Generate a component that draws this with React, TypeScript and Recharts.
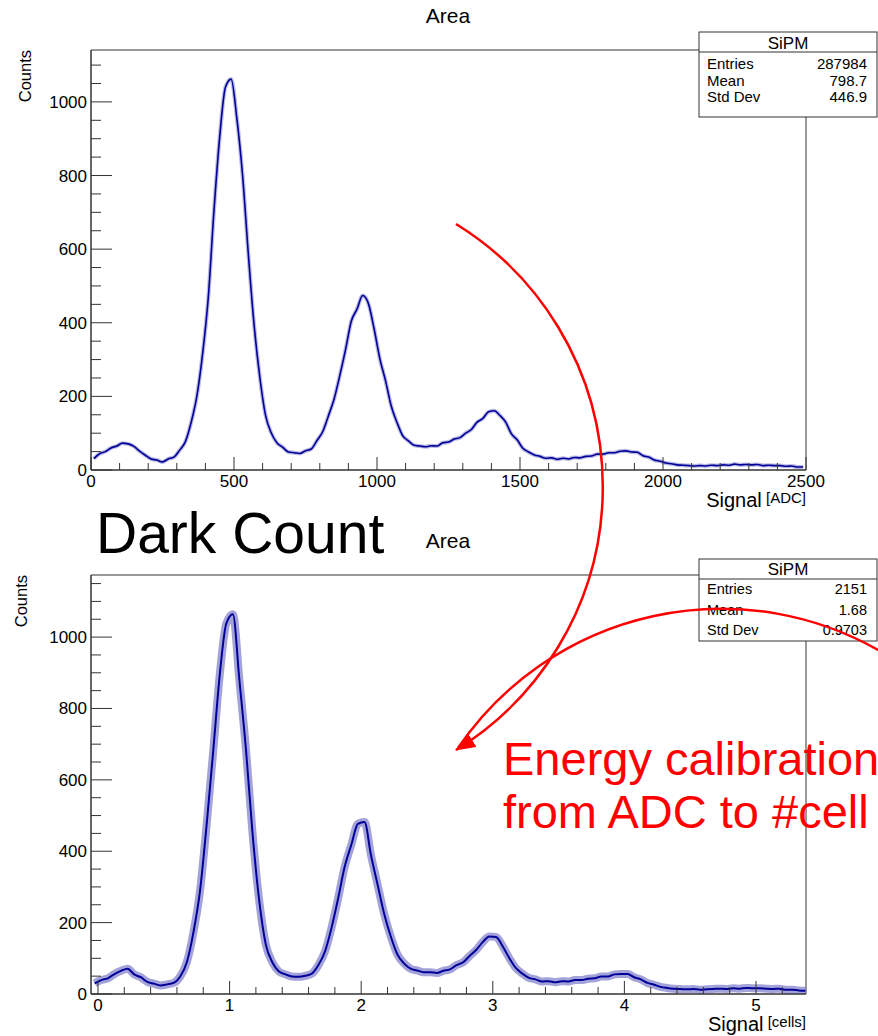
import React from "react";
import { LineChart, Line, XAxis, YAxis, ReferenceArea } from "recharts";

// ADC spectrum, 20 ADC wide bins starting at 0
const ADC_BIN_WIDTH = 20;
const adcCounts = [
  31, 44, 50, 60, 65, 73, 71, 64, 51, 40,
  30, 27, 22, 30, 35, 54, 77, 129, 200, 314,
  468, 705, 905, 1040, 1062, 955, 800, 588, 396, 254,
  150, 101, 74, 62, 49, 47, 45, 52, 57, 80,
  104, 147, 193, 257, 327, 404, 437, 474, 452, 383,
  302, 242, 173, 129, 93, 79, 67, 65, 63, 66,
  65, 74, 76, 84, 88, 100, 110, 130, 140, 158,
  161, 148, 130, 98, 82, 59, 49, 41, 37, 32,
  33, 29, 32, 30, 34, 33, 37, 38, 43, 43,
  47, 47, 51, 52, 49, 48, 39, 35, 27, 24,
  19, 17, 14, 13, 12, 11, 12, 11, 13, 12,
  14, 13, 16, 14, 15, 14, 15, 12, 13, 12,
  12, 10, 11, 8, 8,
];

// calibrated spectrum, 0.05 cell wide bins starting at -0.05
const CELL_BIN_START = -0.05;
const CELL_BIN_WIDTH = 0.05;
const cellCounts = [
  30, 39, 44, 56, 65, 71, 55, 47, 34, 29,
  24, 27, 31, 49, 89, 172, 288, 472, 678, 893,
  1038, 1064, 878, 683, 448, 262, 139, 89, 63, 55,
  49, 48, 51, 57, 81, 119, 186, 268, 357, 418,
  477, 482, 388, 306, 224, 161, 111, 86, 71, 66,
  61, 61, 59, 65, 69, 81, 89, 107, 124, 146,
  161, 160, 134, 101, 73, 57, 45, 41, 35, 36,
  33, 36, 35, 39, 39, 43, 44, 49, 49, 55,
  56, 56, 47, 41, 31, 26, 20, 17, 15, 14,
  13, 14, 12, 13, 14, 15, 14, 16, 15, 17,
  16, 16, 15, 14, 15, 12, 12, 10, 9,
];

const adcTicks = [
  0, 100, 200, 300, 400, 500, 600, 700, 800, 900, 1000, 1100, 1200, 1300,
  1400, 1500, 1600, 1700, 1800, 1900, 2000, 2100, 2200, 2300, 2400, 2500,
];
const cellTicks = [
  0, 0.2, 0.4, 0.6, 0.8, 1, 1.2, 1.4, 1.6, 1.8, 2, 2.2, 2.4, 2.6, 2.8, 3,
  3.2, 3.4, 3.6, 3.8, 4, 4.2, 4.4, 4.6, 4.8, 5, 5.2,
];
const countTicksTop = [
  0, 50, 100, 150, 200, 250, 300, 350, 400, 450, 500, 550, 600, 650, 700,
  750, 800, 850, 900, 950, 1000, 1050, 1100,
];
const countTicksBottom = [...countTicksTop, 1150];

const statsTop = [
  ["Entries", "287984"],
  ["Mean", "798.7"],
  ["Std Dev", "446.9"],
];
const statsBottom = [
  ["Entries", "2151"],
  ["Mean", "1.68"],
  ["Std Dev", "0.9703"],
];

const FONT = "'Liberation Sans', Arial, Helvetica, sans-serif";
const AXIS = "#333";
const HIST = "#000099";

const adcData = adcCounts.map((c, i) => ({ x: ADC_BIN_WIDTH * i + ADC_BIN_WIDTH / 2, count: c }));
const cellData = cellCounts.map((c, i) => ({
  x: CELL_BIN_START + CELL_BIN_WIDTH * i + CELL_BIN_WIDTH / 2,
  count: c,
}));

function yTick(props: any) {
  const { x, y, payload } = props;
  const major = payload.value % 200 === 0;
  return (
    <g>
      <line x1={x} x2={x + (major ? 21 : 10)} y1={y} y2={y} stroke={AXIS} />
      {major && (
        <text x={x - 4} y={y + 6} textAnchor="end" fontSize={17} fill="#000" fontFamily={FONT}>
          {payload.value}
        </text>
      )}
    </g>
  );
}

function xTick(isMajor: (v: number) => boolean) {
  return (props: any) => {
    const { x, y, payload } = props;
    const major = isMajor(payload.value);
    return (
      <g>
        <line x1={x} x2={x} y1={y} y2={y - (major ? 13 : 7)} stroke={AXIS} />
        {major && (
          <text x={x} y={y + 17} textAnchor="middle" fontSize={17} fill="#000" fontFamily={FONT}>
            {payload.value}
          </text>
        )}
      </g>
    );
  };
}

function StatsBox({ y, h, rows, size, titleY, rowY }: any) {
  return (
    <g>
      <rect x={699} y={y} width={178} height={h} fill="#fff" stroke={AXIS} />
      <line x1={699} x2={877} y1={y + 20} y2={y + 20} stroke={AXIS} />
      <text x={788} y={titleY} textAnchor="middle" fontSize={17}>SiPM</text>
      {rows.map((r: string[], i: number) => (
        <g key={r[0]}>
          <text x={707} y={rowY[i]} fontSize={size}>{r[0]}</text>
          <text x={867} y={rowY[i]} fontSize={size} textAnchor="end">{r[1]}</text>
        </g>
      ))}
    </g>
  );
}

export default function App() {
  return (
    <div
      style={{
        position: "absolute",
        left: 0,
        top: 0,
        width: 878,
        height: 1036,
        background: "#fff",
        overflow: "hidden",
        fontFamily: FONT,
      }}
    >
      <div style={{ position: "absolute", left: 0, top: 0 }}>
        <LineChart width={878} height={510} data={adcData} margin={{ top: 50, right: 72, bottom: 10, left: 51 }}>
          <XAxis
            type="number"
            dataKey="x"
            domain={[0, 2500]}
            allowDataOverflow
            ticks={adcTicks}
            interval={0}
            height={30}
            tickSize={0}
            tickMargin={0}
            tickLine={false}
            stroke={AXIS}
            tick={xTick((v) => v % 500 === 0)}
          />
          <YAxis
            type="number"
            domain={[0, 1141]}
            allowDataOverflow
            ticks={countTicksTop}
            interval={0}
            width={40}
            tickSize={0}
            tickMargin={0}
            tickLine={false}
            stroke={AXIS}
            tick={yTick}
          />
          <ReferenceArea x1={0} x2={2500} y1={0} y2={1141} fill="none" stroke={AXIS} strokeWidth={1} />
          <Line
            type="monotone"
            dataKey="count"
            stroke="#3a3ab0"
            strokeOpacity={0.35}
            strokeWidth={4}
            dot={false}
            isAnimationActive={false}
          />
          <Line
            type="monotone"
            dataKey="count"
            stroke={HIST}
            strokeWidth={1.6}
            dot={false}
            isAnimationActive={false}
          />
        </LineChart>
      </div>

      <div style={{ position: "absolute", left: 0, top: 525 }}>
        <LineChart width={878} height={509} data={cellData} margin={{ top: 50, right: 72, bottom: 10, left: 51 }}>
          <XAxis
            type="number"
            dataKey="x"
            domain={[-0.053, 5.38]}
            allowDataOverflow
            ticks={cellTicks}
            interval={0}
            height={30}
            tickSize={0}
            tickMargin={0}
            tickLine={false}
            stroke={AXIS}
            tick={xTick((v) => Number.isInteger(v))}
          />
          <YAxis
            type="number"
            domain={[0, 1174]}
            allowDataOverflow
            ticks={countTicksBottom}
            interval={0}
            width={40}
            tickSize={0}
            tickMargin={0}
            tickLine={false}
            stroke={AXIS}
            tick={yTick}
          />
          <ReferenceArea x1={-0.053} x2={5.38} y1={0} y2={1174} fill="none" stroke={AXIS} strokeWidth={1} />
          <Line
            type="monotone"
            dataKey="count"
            stroke="#4747b5"
            strokeOpacity={0.5}
            strokeWidth={8}
            dot={false}
            isAnimationActive={false}
          />
          <Line
            type="monotone"
            dataKey="count"
            stroke={HIST}
            strokeWidth={2}
            dot={false}
            isAnimationActive={false}
          />
        </LineChart>
      </div>

      <svg
        width={878}
        height={1036}
        style={{ position: "absolute", left: 0, top: 0, pointerEvents: "none" }}
        fontFamily={FONT}
      >
        <defs>
          <marker
            id="arrowhead"
            markerUnits="userSpaceOnUse"
            markerWidth={20}
            markerHeight={16}
            refX={19}
            refY={8}
            orient="auto"
          >
            <path d="M0,0 L20,8 L0,16 z" fill="#ff0000" />
          </marker>
        </defs>

        <text x={448} y={23} textAnchor="middle" fontSize={21}>Area</text>
        <text transform="translate(31,50) rotate(-90)" textAnchor="end" fontSize={16.5}>Counts</text>
        <text x={806} y={507} textAnchor="end" fontSize={20}>
          Signal<tspan fontSize={15} dy={-4}> [ADC]</tspan>
        </text>

        <text x={96} y={553} fontSize={57}>Dark Count</text>
        <text x={448} y={548} textAnchor="middle" fontSize={21}>Area</text>
        <text transform="translate(27,575) rotate(-90)" textAnchor="end" fontSize={16.5}>Counts</text>
        <text x={806} y={1031} textAnchor="end" fontSize={20}>
          Signal<tspan fontSize={15} dy={-4}> [cells]</tspan>
        </text>

        <StatsBox y={32} h={85} rows={statsTop} size={15} titleY={49} rowY={[69, 85.5, 102]} />
        <StatsBox y={559} h={82} rows={statsBottom} size={14.5} titleY={575} rowY={[594, 614.5, 635]} />

        <path d="M 456 224 A 309 309 0 0 1 456 750" fill="none" stroke="#ff0000" strokeWidth={2.5} markerEnd="url(#arrowhead)" />
        <path d="M 885 654 A 318.5 318.5 0 0 0 458 748" fill="none" stroke="#ff0000" strokeWidth={2.5} />

        <text x={503} y={775} fontSize={47} fill="#ff0000">Energy calibration</text>
        <text x={503} y={828} fontSize={47} fill="#ff0000">from ADC to #cell</text>
      </svg>
    </div>
  );
}
